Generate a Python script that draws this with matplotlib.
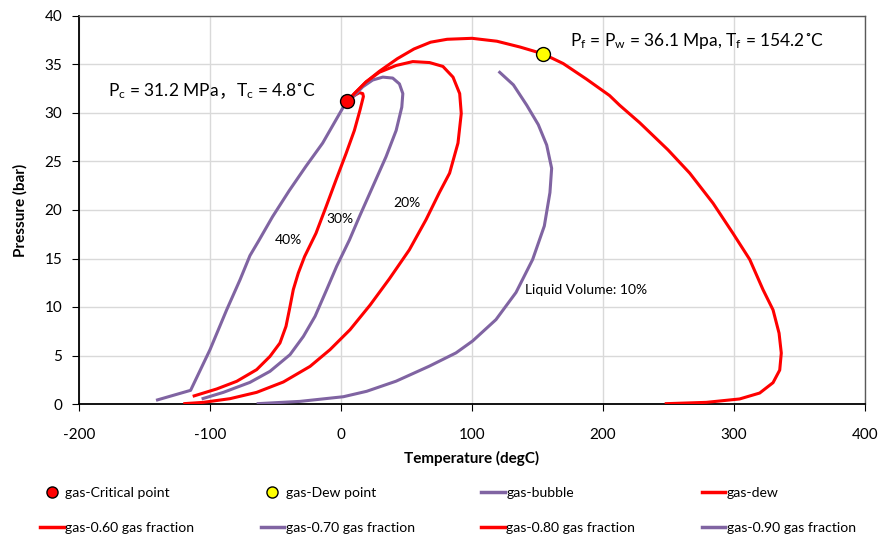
import matplotlib
matplotlib.use('Agg')
import matplotlib.pyplot as plt
from matplotlib.lines import Line2D
from matplotlib.offsetbox import TextArea, HPacker, AnnotationBbox

plt.rcParams['font.family'] = ['Lato', 'Noto Sans CJK SC', 'DejaVu Sans']
plt.rcParams['mathtext.fontset'] = 'custom'
plt.rcParams['mathtext.rm'] = 'Lato'
plt.rcParams['mathtext.it'] = 'Lato'
plt.rcParams['axes.unicode_minus'] = False

RED = '#FF0000'
PURPLE = '#8064A2'

# dados (T em degC, P em bar)
crit_T, crit_P = [4.8], [31.2]
dewpt_T, dewpt_P = [154.2], [36.1]

bubble_T = [-141.2, -114.8, -100, -87.3, -77.1, -69.5, -62.5, -52.3, -39.5,
            -26.8, -14, -3.8, 1.3, 4.8]
bubble_P = [0.38, 1.41, 5.6, 9.7, 12.8, 15.3, 16.9, 19.3, 22.0,
            24.5, 26.9, 29.3, 30.5, 31.2]

dew_T = [4.8, 10.2, 19.1, 29.3, 43, 55.7, 68.4, 81, 100, 119, 136.7, 154.2,
         169.6, 187.3, 205, 212.7, 228, 249.6, 266.2, 284, 299.2, 312, 322.1,
         329.8, 334.4, 336.1, 334.9, 329.8, 319.6, 304.3, 278.9, 247.1]
dew_P = [31.2, 32.0, 33.2, 34.3, 35.6, 36.6, 37.3, 37.6, 37.7, 37.4, 36.8, 36.1,
         35.1, 33.5, 31.8, 30.8, 29.0, 26.2, 23.8, 20.7, 17.6, 14.9, 11.8,
         9.7, 7.3, 5.25, 3.5, 2.2, 1.13, 0.52, 0.17, 0.03]

f60_T = [-113.2, -94.9, -79.6, -64.4, -54.2, -46.6, -42, -39.4, -36.4, -32.6,
         -27.8, -19.1, -11.5, -3.8, 3.8, 10.2, 14.5, 17.1, 16.6, 14, 10.2, 4.8]
f60_P = [0.79, 1.55, 2.34, 3.54, 4.91, 6.29, 8.0, 9.72, 11.8, 13.5,
         15.2, 17.6, 20.3, 23.1, 25.8, 28.2, 30.3, 31.7, 32.0, 32.1, 31.8, 31.2]

f70_T = [-106.4, -89.8, -69.5, -54.2, -38.9, -28.7, -19.8, -10.9, -3.3, 6.4,
         14, 24.2, 34.4, 42.1, 46.4, 47.2, 44.6, 39.5, 31.9, 24.2, 16.6, 10.2, 4.8]
f70_P = [0.52, 1.2, 2.23, 3.37, 5.09, 6.97, 9.04, 11.8, 14.2, 16.9,
         19.3, 22.4, 25.5, 28.2, 30.6, 32.0, 33.0, 33.6, 33.7, 33.4, 32.7, 31.8, 31.2]

f80_T = [-120.4, -105.1, -84.7, -64.4, -44, -23.6, -8.4, 6.9, 22.2, 36.9,
         52.2, 64.9, 75.1, 82.9, 89.3, 91.8, 90.6, 85.5, 77.8, 67.6, 54.8,
         42.1, 29.3, 19.1, 10.2, 4.8]
f80_P = [0.03, 0.17, 0.55, 1.2, 2.27, 3.88, 5.6, 7.66, 10.2, 12.9,
         15.9, 19.0, 21.8, 23.8, 26.9, 29.95, 32.0, 33.7, 34.8, 35.2, 35.3,
         34.9, 34.2, 33.2, 32.0, 31.2]

f90_T = [-64.4, -31.3, 1.8, 19.6, 42, 67.4, 87.8, 100.5, 118.3, 133.6, 146.3,
         155.2, 159.5, 160.8, 157, 150.6, 141.8, 131.6, 120.3]
f90_P = [0.03, 0.27, 0.75, 1.31, 2.35, 3.9, 5.27, 6.5, 8.7, 11.5, 14.9,
         18.35, 21.8, 24.3, 26.7, 28.8, 30.8, 32.9, 34.3]

fig = plt.figure(figsize=(8.88, 5.4), dpi=100)
ax = fig.add_axes([79 / 888, 1 - 404 / 540, (865 - 79) / 888, (404 - 16) / 540])

lw = 2.2
line_kw = dict(lw=lw, zorder=3, solid_joinstyle='round', solid_capstyle='butt')
ax.plot(bubble_T, bubble_P, color=PURPLE, **line_kw)
ax.plot(dew_T, dew_P, color=RED, **line_kw)
ax.plot(f60_T, f60_P, color=RED, **line_kw)
ax.plot(f70_T, f70_P, color=PURPLE, **line_kw)
ax.plot(f80_T, f80_P, color=RED, **line_kw)
ax.plot(f90_T, f90_P, color=PURPLE, **line_kw)
ax.plot(crit_T, crit_P, 'o', color=RED, mec='black', mew=1, ms=10, zorder=5)
ax.plot(dewpt_T, dewpt_P, 'o', color='yellow', mec='black', mew=1, ms=10, zorder=5)

ax.set_xlim(-200, 400)
ax.set_ylim(0, 40)
ax.set_xticks(range(-200, 401, 100))
ax.set_yticks(range(0, 41, 5))
ax.grid(True, color='#D9D9D9', lw=1)
ax.set_axisbelow(True)
ax.tick_params(labelsize=11, length=5, direction='out')
ax.tick_params(axis='x', pad=12.5)
ax.tick_params(axis='y', pad=7)
for s in ['top', 'right']:
    ax.spines[s].set_color('#595959')
    ax.spines[s].set_linewidth(1)
for s in ['left', 'bottom']:
    ax.spines[s].set_color('black')
    ax.spines[s].set_linewidth(1.3)

ax.set_xlabel('Temperature (degC)', fontsize=11, fontweight='bold', labelpad=6)
ax.set_ylabel('Pressure (bar)', fontsize=11, fontweight='bold', labelpad=12)


def rich_label(xy, parts, size=12.5):
    # junta pedaços de texto (mathtext + vírgula CJK) na mesma linha de base
    boxes = [TextArea(s, textprops=dict(fontsize=size, family=fam)) for s, fam in parts]
    pack = HPacker(children=boxes, align='baseline', pad=0, sep=0)
    ab = AnnotationBbox(pack, xy, xycoords='data', box_alignment=(0, 0.5),
                        frameon=False, pad=0, zorder=6)
    ax.add_artist(ab)


rich_label((-178, 32.3), [('P$_{\\mathrm{c}}$ = 31.2 MPa', 'Lato'),
                          ('，', 'Noto Sans CJK SC'),
                          ('T$_{\\mathrm{c}}$ = 4.8˚C', 'Lato')])
rich_label((175, 37.5), [('P$_{\\mathrm{f}}$ = P$_{\\mathrm{w}}$ = 36.1 Mpa, '
                          'T$_{\\mathrm{f}}$ = 154.2˚C', 'Lato')])

ax.text(-40.5, 16.9, '40%', fontsize=10, ha='center', va='center')
ax.text(-1, 19.1, '30%', fontsize=10, ha='center', va='center')
ax.text(50, 20.7, '20%', fontsize=10, ha='center', va='center')
ax.text(140.5, 11.8, 'Liquid Volume: 10%', fontsize=10, ha='left', va='center')

# legenda em grade 2x4
entries = [
    (Line2D([], [], ls='none', marker='o', color=RED, mec='black', ms=8), 'gas-Critical point'),
    (Line2D([], [], ls='none', marker='o', color='yellow', mec='black', ms=8), 'gas-Dew point'),
    (Line2D([], [], color=PURPLE, lw=2.5), 'gas-bubble'),
    (Line2D([], [], color=RED, lw=2.5), 'gas-dew'),
    (Line2D([], [], color=RED, lw=2.5), 'gas-0.60 gas fraction'),
    (Line2D([], [], color=PURPLE, lw=2.5), 'gas-0.70 gas fraction'),
    (Line2D([], [], color=RED, lw=2.5), 'gas-0.80 gas fraction'),
    (Line2D([], [], color=PURPLE, lw=2.5), 'gas-0.90 gas fraction'),
]
for i, (h, lab) in enumerate(entries):
    row, col = divmod(i, 4)
    x0 = (40 + col * 220.5) / 888
    y0 = 1 - (493 + row * 35) / 540
    fig.legend([h], [lab], loc='center left', bbox_to_anchor=(x0, y0),
               frameon=False, fontsize=10.1, handlelength=1.7,
               handletextpad=0.1, borderpad=0, borderaxespad=0)

fig.savefig('out.png', dpi=100)
